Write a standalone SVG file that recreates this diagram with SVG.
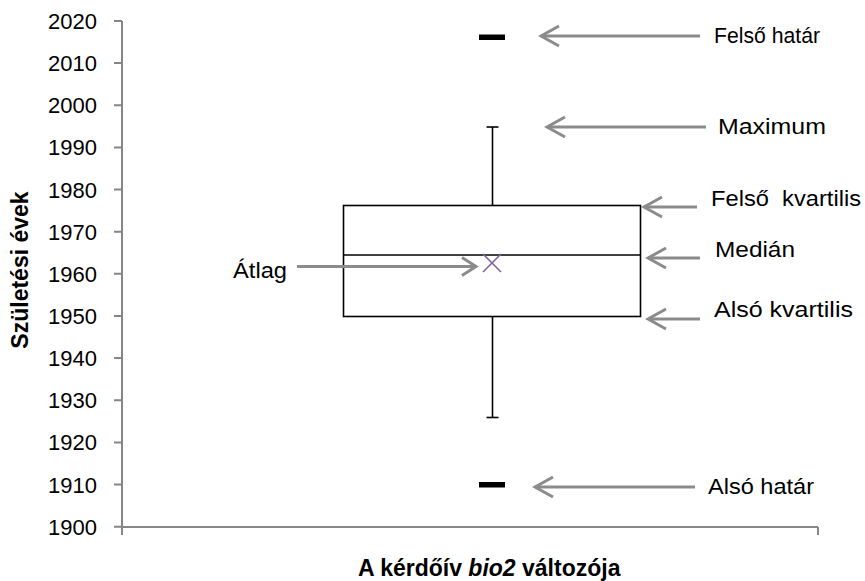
<svg xmlns="http://www.w3.org/2000/svg" width="865" height="581" viewBox="0 0 865 581">
<style>
text{font-family:"Liberation Sans",Arial,sans-serif;fill:#000}
.tick{font-size:22px;text-anchor:end}
.lbl{font-size:22px}
.ttl{font-size:23px;font-weight:bold}
.ax{stroke:#868686;stroke-width:2;fill:none}
.bx{stroke:#000;stroke-width:1.6;fill:none}
.arr{stroke:#8b8b8b;stroke-width:3;fill:none;marker-end:url(#ah)}
.arrs{stroke:#8b8b8b;stroke-width:3;fill:none;marker-end:url(#ahs)}
</style>
<defs>
<marker id="ah" markerUnits="userSpaceOnUse" viewBox="0 0 24 24" markerWidth="24" markerHeight="24" refX="21" refY="12" orient="auto">
<path d="M3,2 L21,12 L3,22" fill="none" stroke="#8b8b8b" stroke-width="3"/>
</marker>
<marker id="ahs" markerUnits="userSpaceOnUse" viewBox="0 0 24 24" markerWidth="24" markerHeight="24" refX="21" refY="12" orient="auto">
<path d="M7,3 L21,12 L7,21" fill="none" stroke="#8b8b8b" stroke-width="3"/>
</marker>
</defs>
<rect width="865" height="581" fill="#fff"/>
<g id="axes">
<path class="ax" d="M122,21 V527 H818 M114,21H122 M114,63.1H122 M114,105.3H122 M114,147.4H122 M114,189.6H122 M114,231.7H122 M114,273.8H122 M114,316H122 M114,358.1H122 M114,400.3H122 M114,442.4H122 M114,484.5H122 M114,526.7H122 M122,527V535 M818,527V535"/>
<g id="tick-labels">
<text class="tick" x="97" y="29">2020</text>
<text class="tick" x="97" y="71.1">2010</text>
<text class="tick" x="97" y="113.3">2000</text>
<text class="tick" x="97" y="155.4">1990</text>
<text class="tick" x="97" y="197.6">1980</text>
<text class="tick" x="97" y="239.7">1970</text>
<text class="tick" x="97" y="281.8">1960</text>
<text class="tick" x="97" y="324">1950</text>
<text class="tick" x="97" y="366.1">1940</text>
<text class="tick" x="97" y="408.3">1930</text>
<text class="tick" x="97" y="450.4">1920</text>
<text class="tick" x="97" y="492.5">1910</text>
<text class="tick" x="97" y="534.7">1900</text>
</g>
<text id="y-title" class="ttl" transform="translate(28,270) rotate(-90)" text-anchor="middle">Születési évek</text>
<text id="x-title" class="ttl" x="358" y="576">A kérdőív <tspan font-style="italic">bio2</tspan> változója</text>
</g>
<g id="boxplot">
<rect class="bx" x="343.5" y="205.5" width="297" height="111"/>
<line class="bx" x1="343.5" y1="255" x2="640.5" y2="255"/>
<line class="bx" x1="492.5" y1="205.5" x2="492.5" y2="127"/>
<line class="bx" x1="486.5" y1="127" x2="498.5" y2="127"/>
<line class="bx" x1="492.5" y1="316.5" x2="492.5" y2="417.5"/>
<line class="bx" x1="486.5" y1="417.5" x2="498.5" y2="417.5"/>
</g>
<g id="upper-limit"><rect x="479" y="34.5" width="26" height="5.5" fill="#000"/></g>
<g id="lower-limit"><rect x="479" y="482" width="26" height="5.5" fill="#000"/></g>
<g id="mean"><path d="M483,254 L501,272 M501,254 L483,272" stroke="#7f63a1" stroke-width="1.6" fill="none"/></g>
<g id="connectors">
<line class="arr" x1="700" y1="36" x2="541" y2="36"/>
<line class="arr" x1="706" y1="127" x2="547" y2="127"/>
<line class="arr" x1="697" y1="207" x2="644" y2="207"/>
<line class="arr" x1="700" y1="258" x2="648" y2="258"/>
<line class="arr" x1="700" y1="319" x2="648" y2="319"/>
<line class="arr" x1="695" y1="487" x2="535" y2="487"/>
<line class="arrs" x1="297" y1="266.5" x2="476" y2="266.5"/>
</g>
<g id="labels">
<text class="lbl" x="714" y="43" textLength="106" lengthAdjust="spacingAndGlyphs">Felső határ</text>
<text class="lbl" x="718" y="134" textLength="108" lengthAdjust="spacingAndGlyphs">Maximum</text>
<text class="lbl" x="711" y="206" xml:space="preserve" textLength="150" lengthAdjust="spacingAndGlyphs">Felső  kvartilis</text>
<text class="lbl" x="715" y="257" textLength="80" lengthAdjust="spacingAndGlyphs">Medián</text>
<text class="lbl" x="714" y="317" textLength="139" lengthAdjust="spacingAndGlyphs">Alsó kvartilis</text>
<text class="lbl" x="708" y="494" textLength="106" lengthAdjust="spacingAndGlyphs">Alsó határ</text>
<text class="lbl" x="233" y="278" textLength="54" lengthAdjust="spacingAndGlyphs">Átlag</text>
</g>
</svg>
